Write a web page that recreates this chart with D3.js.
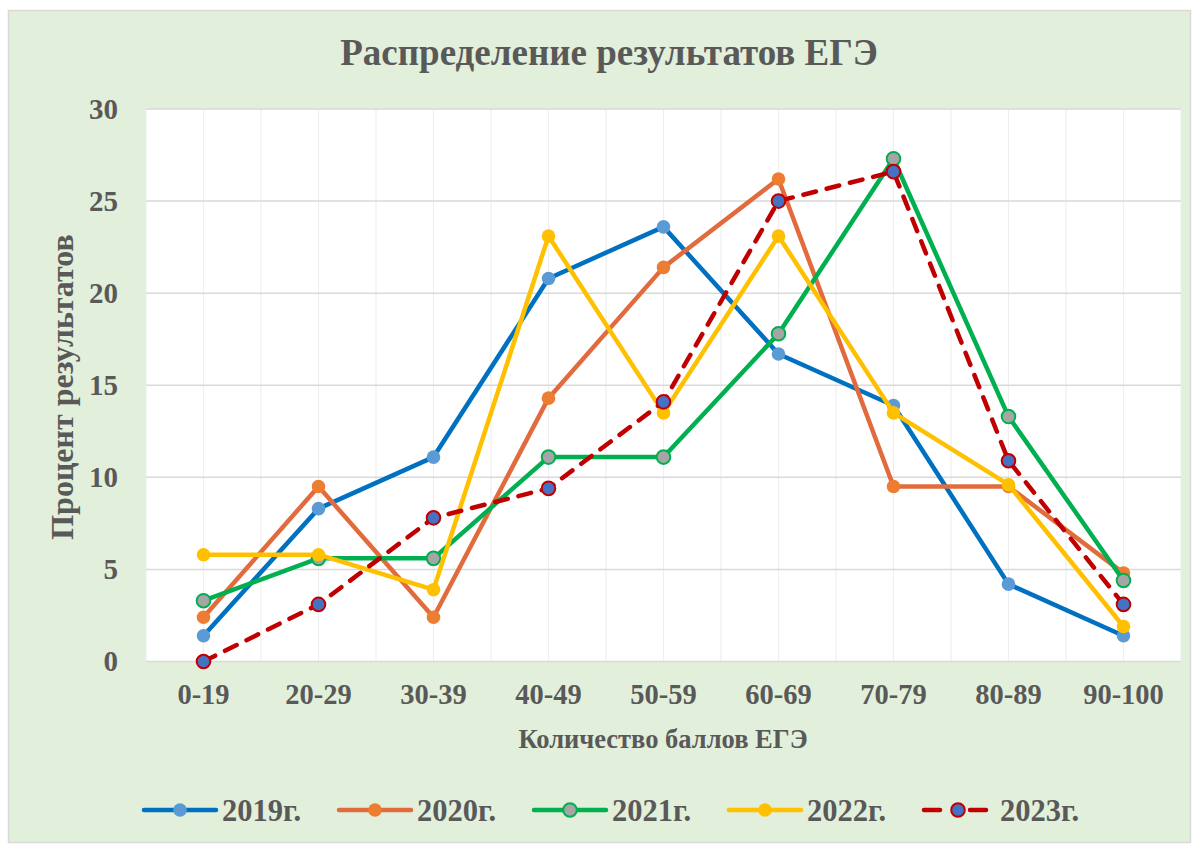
<!DOCTYPE html>
<html>
<head>
<meta charset="utf-8">
<script src="https://cdnjs.cloudflare.com/ajax/libs/d3/7.8.5/d3.min.js"></script>
<style>
    body { margin: 0; background: #ffffff; }
    text { font-family: "Liberation Serif", "Times New Roman", serif; font-weight: bold; fill: #595959; }
</style>
</head>
<body>
<div id="chart"></div>
<script>
var categories = ["0-19", "20-29", "30-39", "40-49", "50-59", "60-69", "70-79", "80-89", "90-100"];
var yTicks = [0, 5, 10, 15, 20, 25, 30];

var values2019 = [1.4, 8.3, 11.1, 20.8, 23.6, 16.7, 13.9, 4.2, 1.4];
var values2020 = [2.4, 9.5, 2.4, 14.3, 21.4, 26.2, 9.5, 9.5, 4.8];
var values2021 = [3.3, 5.6, 5.6, 11.1, 11.1, 17.8, 27.3, 13.3, 4.4];
var values2022 = [5.8, 5.8, 3.9, 23.1, 13.5, 23.1, 13.5, 9.6, 1.9];
var values2023 = [0, 3.1, 7.8, 9.4, 14.1, 25.0, 26.6, 10.9, 3.1];

var seriesNames = ["2019г.", "2020г.", "2021г.", "2022г.", "2023г."];

var series = [
    { name: seriesNames[0], values: values2019, line: "#0070C0", fill: "#5B9BD5", stroke: "none", dash: null },
    { name: seriesNames[1], values: values2020, line: "#E26B3E", fill: "#ED7D31", stroke: "none", dash: null },
    { name: seriesNames[2], values: values2021, line: "#00B050", fill: "#A5A5A5", stroke: "#00B050", dash: null },
    { name: seriesNames[3], values: values2022, line: "#FFC000", fill: "#FFC000", stroke: "none", dash: null },
    { name: seriesNames[4], values: values2023, line: "#C00000", fill: "#4472C4", stroke: "#C00000", dash: "13,11" }
];

var width = 1198,
    height = 845,
    margin = { top: 109, right: 17, bottom: 183, left: 146 };

var svg = d3.select("#chart")
    .append("svg")
    .attr("width", width)
    .attr("height", height);

// chart area
svg.append("rect")
    .attr("x", 8.5)
    .attr("y", 10.5)
    .attr("width", 1182)
    .attr("height", 832)
    .attr("fill", "#E2EFDA")
    .attr("stroke", "#D9D9D9")
    .attr("stroke-width", 1.5);

var x = d3.scaleBand()
    .domain(categories)
    .range([margin.left, width - margin.right])
    .padding(0);

var y = d3.scaleLinear()
    .domain([0, 30])
    .range([height - margin.bottom - 0.5, margin.top]);

var bw = x.bandwidth();
var cx = function(c) { return x(c) + bw / 2; };

// plot area
svg.append("rect")
    .attr("x", x.range()[0])
    .attr("y", y(30))
    .attr("width", x.range()[1] - x.range()[0])
    .attr("height", y(0) - y(30))
    .attr("fill", "#ffffff");

// vertical gridlines: band edges and centres
var vLines = [];
categories.forEach(function(c) {
    vLines.push(x(c));
    vLines.push(cx(c));
});
vLines.push(x.range()[1]);

svg.append("g")
    .selectAll("line")
    .data(vLines)
    .enter().append("line")
    .attr("x1", function(d) { return d; })
    .attr("x2", function(d) { return d; })
    .attr("y1", y(30))
    .attr("y2", y(0))
    .attr("stroke", "#EFEFEF")
    .attr("stroke-width", 1.2);

svg.append("g")
    .selectAll("line")
    .data(yTicks)
    .enter().append("line")
    .attr("x1", x.range()[0])
    .attr("x2", x.range()[1])
    .attr("y1", function(d) { return y(d); })
    .attr("y2", function(d) { return y(d); })
    .attr("stroke", "#D9D9D9")
    .attr("stroke-width", 1.5);

// axes
var yAxis = svg.append("g")
    .attr("transform", "translate(" + margin.left + ",0)")
    .call(d3.axisLeft(y).tickValues(yTicks).tickSize(0).tickPadding(28));
yAxis.select(".domain").remove();
yAxis.selectAll("text")
    .attr("font-size", 29)
    .attr("font-family", null)
    .attr("fill", "#595959");

var xAxis = svg.append("g")
    .attr("transform", "translate(0," + y(0) + ")")
    .call(d3.axisBottom(x).tickSize(0).tickPadding(22));
xAxis.select(".domain").remove();
xAxis.selectAll("text")
    .attr("font-size", 28.5)
    .attr("font-family", null)
    .attr("fill", "#595959");

// titles
svg.append("text")
    .attr("x", 609)
    .attr("y", 65)
    .attr("text-anchor", "middle")
    .attr("font-size", 37)
    .text("Распределение результатов ЕГЭ");

svg.append("text")
    .attr("x", 663)
    .attr("y", 748)
    .attr("text-anchor", "middle")
    .attr("font-size", 26.5)
    .text("Количество баллов ЕГЭ");

svg.append("text")
    .attr("transform", "translate(73,387) rotate(-90)")
    .attr("text-anchor", "middle")
    .attr("font-size", 32)
    .text("Процент результатов");

// series
var line = d3.line()
    .x(function(d, i) { return cx(categories[i]); })
    .y(function(d) { return y(d); });

series.forEach(function(s) {
    var g = svg.append("g");
    g.append("path")
        .attr("d", line(s.values))
        .attr("fill", "none")
        .attr("stroke", s.line)
        .attr("stroke-width", 4.5)
        .attr("stroke-linejoin", "round")
        .attr("stroke-linecap", "round")
        .attr("stroke-dasharray", s.dash);
    g.selectAll("circle")
        .data(s.values)
        .enter().append("circle")
        .attr("cx", function(d, i) { return cx(categories[i]); })
        .attr("cy", function(d) { return y(d); })
        .attr("r", 6.8)
        .attr("fill", s.fill)
        .attr("stroke", s.stroke)
        .attr("stroke-width", 2);
});

// legend
var legendX = [144, 339, 534, 729, 922];
var legend = svg.append("g")
    .selectAll("g")
    .data(series)
    .enter().append("g")
    .attr("transform", function(d, i) { return "translate(" + legendX[i] + ",810)"; });

legend.append("line")
    .attr("x1", function(d) { return d.dash ? 2 : 0; })
    .attr("x2", function(d) { return d.dash ? 66 : 72; })
    .attr("stroke", function(d) { return d.line; })
    .attr("stroke-width", 4.5)
    .attr("stroke-linecap", "round")
    .attr("stroke-dasharray", function(d) { return d.dash ? "16,30" : null; });

legend.append("circle")
    .attr("cx", 36)
    .attr("r", 6.8)
    .attr("fill", function(d) { return d.fill; })
    .attr("stroke", function(d) { return d.stroke; })
    .attr("stroke-width", 2);

legend.append("text")
    .attr("x", 78)
    .attr("y", 11)
    .attr("font-size", 30.5)
    .text(function(d) { return d.name; });
</script>
</body>
</html>
